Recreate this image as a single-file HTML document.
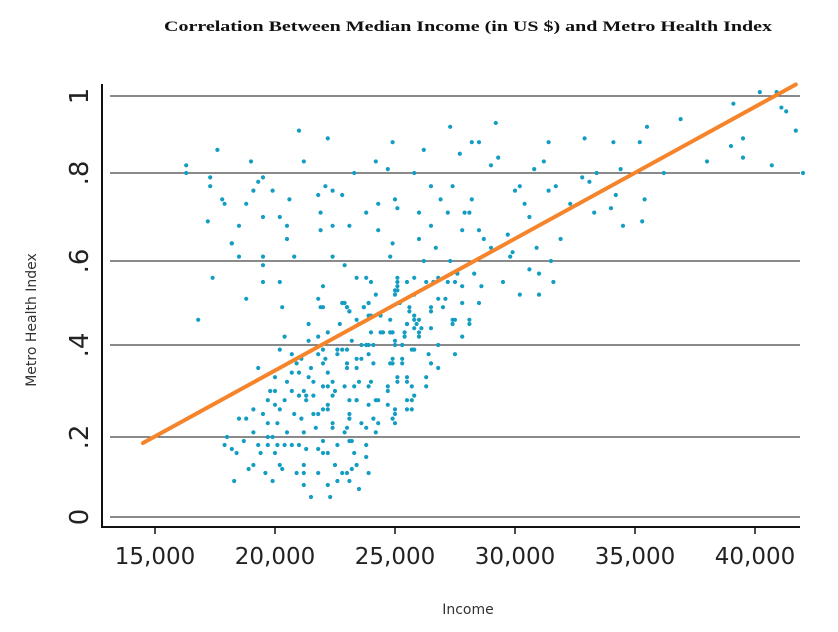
<!DOCTYPE html>
<html><head><meta charset="utf-8"><style>
html,body{margin:0;padding:0;background:#fff;}
svg{display:block;}
</style></head><body>
<svg id="chart" width="838" height="632" viewBox="0 0 838 632" xmlns="http://www.w3.org/2000/svg">
<text x="468" y="31" text-anchor="middle" font-family="Liberation Serif, serif" font-weight="bold" font-size="15" fill="#111" textLength="608" lengthAdjust="spacingAndGlyphs">Correlation Between Median Income (in US $) and Metro Health Index</text>
<g id="grid"></g>
<g id="dots"></g>
<g id="fit"></g>
<g id="axes"></g>
<text x="468" y="614" text-anchor="middle" font-family="DejaVu Sans, Liberation Sans, sans-serif" font-size="14" fill="#333">Income</text>
<text transform="translate(36,320) rotate(-90)" text-anchor="middle" font-family="DejaVu Sans, Liberation Sans, sans-serif" font-size="14" fill="#333">Metro Health Index</text>
</svg>
<script>
const xTicks=[15000,20000,25000,30000,35000,40000];
const xTickLabels=["15,000","20,000","25,000","30,000","35,000","40,000"];
const yTicks=[0,0.2,0.4,0.6,0.8,1];
const yTickLabels=["0",".2",".4",".6",".8","1"];
const incomeK=[
16.3,16.3,17.6,17.3,17.3,17.8,17.9,17.2,18.5,18.2,18.2,18.5,17.4,18.8,19.0,19.3,19.5,19.1,19.9,19.5,20.2,20.5,20.5,19.5,19.5,20.8,20.6,19.5,20.2,18.8,20.3,16.8,21.0,21.2,22.2,22.1,22.4,21.8,22.8,21.9,22.4,21.9,23.1,22.4,22.9,23.3,24.2,24.7,24.9,25.0,25.1,24.3,23.8,24.3,24.9,24.8,25.1,23.4,23.8,24.0,22.0,24.2,21.8,22.8,23.0,23.1,21.9,23.7,23.9,23.9,25.0,25.1,
20.4,20.2,19.3,18.0,17.9,18.2,18.4,18.3,18.5,18.8,19.1,19.1,18.7,19.5,19.7,19.7,19.9,19.3,19.4,19.7,18.9,19.1,19.6,19.9,19.8,20.0,19.7,20.0,20.0,20.2,20.1,20.1,20.0,20.2,20.3,20.4,20.5,20.7,20.8,20.5,20.4,20.7,20.9,20.7,21.0,20.9,21.1,20.7,21.0,21.2,21.3,21.1,21.2,21.0,21.3,21.2,21.2,21.2,21.5,21.4,21.4,21.8,22.2,21.4,21.6,21.5,21.8,22.0,22.1,22.0,21.6,21.3,21.6,21.8,21.7,22.0,22.2,22.2,22.0,22.2,22.4,22.2,22.4,22.4,22.5,22.0,21.8,22.0,22.2,21.8,22.2,22.3,22.6,22.5,22.6,22.8,23.0,23.1,23.5,23.2,23.4,23.8,23.9,23.3,23.1,23.2,23.8,22.9,22.6,22.6,22.8,23.0,23.0,23.0,23.3,23.4,23.1,23.1,23.1,23.0,22.9,22.4,23.4,23.4,23.6,23.5,23.4,23.6,23.8,23.9,23.9,24.0,23.9,23.9,23.6,23.8,23.2,23.5,23.4,24.0,24.1,24.1,24.2,24.3,24.1,24.3,24.2,24.7,24.7,24.7,24.8,24.9,25.0,25.0,25.1,25.3,25.3,25.5,25.5,25.7,25.7,25.7,25.0,24.4,24.5,24.8,24.8,24.4,25.4,25.5,25.9,26.0,25.8,25.6,24.0,23.9,23.7,22.9,23.0,23.1,22.7,22.0,
27.3,29.2,26.2,28.2,28.5,27.7,29.0,29.3,31.4,31.2,30.8,32.9,34.1,35.2,35.5,36.9,34.4,33.4,36.2,38.0,39.0,39.5,39.5,40.7,41.7,42.0,41.3,25.8,40.2,40.9,39.1,41.1,
26.5,27.4,26.9,28.2,26.0,27.2,27.9,28.1,26.5,27.8,28.5,28.7,26.0,26.7,27.3,26.2,29.0,29.7,29.9,29.8,30.9,31.5,31.9,32.3,30.0,30.2,30.4,30.6,31.4,31.7,32.8,33.1,33.3,34.2,34.0,34.5,35.3,35.4,
30.6,31.0,31.6,29.5,30.2,31.0,28.3,28.6,28.5,27.8,27.6,27.5,27.2,27.8,26.8,26.6,26.3,25.8,25.8,25.5,25.1,25.1,25.0,25.2,25.6,26.8,27.1,27.0,26.5,26.5,25.8,26.0,27.4,27.5,28.1,28.1,27.4,27.8,25.5,25.8,26.1,26.5,26.0,25.4,24.9,25.0,26.8,
25.3,25.8,26.4,27.5,24.9,25.3,26.5,26.8,26.3,25.1,25.5,26.3,25.8,25.5,25.7,24.9,25.0];
const healthIndex=[
.82,.80,.86,.79,.77,.74,.73,.69,.68,.64,.64,.61,.56,.73,.83,.78,.79,.76,.76,.70,.70,.68,.65,.61,.59,.61,.74,.55,.55,.51,.49,.46,.91,.83,.89,.77,.76,.75,.75,.71,.68,.67,.68,.61,.59,.80,.83,.81,.88,.74,.72,.73,.71,.67,.64,.61,.56,.56,.56,.55,.54,.52,.51,.50,.49,.48,.49,.49,.50,.47,.53,.54,
.42,.39,.35,.20,.18,.17,.16,.09,.24,.24,.26,.21,.19,.25,.23,.20,.20,.18,.16,.18,.12,.13,.11,.09,.30,.30,.28,.27,.33,.26,.23,.18,.16,.13,.12,.28,.32,.38,.25,.21,.18,.18,.11,.34,.34,.36,.37,.30,.29,.30,.29,.24,.21,.18,.17,.13,.11,.08,.05,.45,.41,.42,.43,.33,.32,.35,.38,.36,.37,.39,.29,.28,.25,.25,.22,.26,.34,.31,.31,.27,.29,.26,.23,.32,.30,.19,.17,.16,.16,.11,.08,.05,.18,.13,.09,.11,.11,.09,.07,.12,.13,.15,.11,.16,.19,.19,.18,.31,.38,.39,.39,.39,.35,.36,.31,.28,.28,.25,.24,.22,.21,.22,.35,.37,.37,.32,.28,.23,.22,.27,.31,.32,.38,.40,.40,.40,.41,.45,.46,.43,.40,.36,.28,.28,.24,.23,.21,.27,.31,.30,.36,.37,.26,.25,.33,.37,.40,.33,.28,.28,.31,.39,.41,.43,.43,.43,.46,.47,.43,.45,.45,.43,.47,.49,.47,.50,.49,.50,.49,.48,.45,.49,
.92,.93,.86,.88,.88,.85,.82,.84,.88,.83,.81,.89,.88,.88,.92,.94,.81,.80,.80,.83,.87,.89,.84,.82,.91,.80,.96,.80,1.01,1.01,.98,.97,
.77,.77,.74,.74,.71,.71,.71,.71,.68,.67,.67,.65,.65,.63,.60,.60,.63,.66,.62,.61,.63,.60,.65,.73,.76,.77,.73,.70,.76,.77,.79,.78,.71,.75,.72,.68,.69,.74,
.58,.57,.55,.55,.52,.52,.57,.54,.50,.50,.57,.55,.55,.54,.56,.55,.55,.56,.52,.55,.55,.53,.52,.50,.48,.51,.51,.49,.49,.48,.46,.46,.46,.46,.46,.45,.45,.42,.45,.44,.44,.44,.42,.42,.43,.40,.40,
.40,.39,.38,.38,.36,.36,.36,.35,.33,.32,.32,.31,.29,.26,.26,.24,.23];
const fitIncome=[14500,41700];
const fitIndex=[0.185,1.03];

const NS="http://www.w3.org/2000/svg";
const X0=155,PX_PER=24/1000;
function xScale(v){return X0+(v-15000)*PX_PER;}
const yPix=[517,437,345,261,173,96];
function yScale(v){
  let i=0;
  if(v<=yTicks[0]) i=0; else if(v>=yTicks[yTicks.length-1]) i=yTicks.length-2;
  else {while(i<yTicks.length-2 && v>yTicks[i+1]) i++;}
  const t=(v-yTicks[i])/(yTicks[i+1]-yTicks[i]);
  return yPix[i]+t*(yPix[i+1]-yPix[i]);
}
function mk(tag,attrs,parent){const e=document.createElementNS(NS,tag);for(const k in attrs)e.setAttribute(k,attrs[k]);parent.appendChild(e);return e;}

const grid=document.getElementById('grid');
yTicks.forEach((t,i)=>{
  const y=yScale(t);
  const l=mk('line',{x1:110,x2:800,y1:y,y2:y,stroke:'#444','stroke-width':1.3},grid);
  
  
  const tx=mk('text',{transform:`translate(88,${y}) rotate(-90)`,'text-anchor':'middle','font-family':'DejaVu Sans, Liberation Sans, sans-serif','font-size':26,fill:'#222'},grid);
  tx.textContent=yTickLabels[i];
  
  
});
const dots=document.getElementById('dots');
for(let i=0;i<incomeK.length;i++){
  const c=mk('circle',{cx:xScale(incomeK[i]*1000),cy:yScale(healthIndex[i]),r:2.1,fill:'#139dc3'},dots);
  
  
}
const fit=document.getElementById('fit');
const fl=mk('line',{x1:xScale(fitIncome[0]),y1:yScale(fitIndex[0]),x2:xScale(fitIncome[1]),y2:yScale(fitIndex[1]),stroke:'#f5842b','stroke-width':4,'stroke-linecap':'round'},fit);


const axes=document.getElementById('axes');
const ya=mk('line',{x1:102,x2:102,y1:84,y2:528,stroke:'#111','stroke-width':2},axes);


const xa=mk('line',{x1:101,x2:800,y1:527,y2:527,stroke:'#111','stroke-width':2},axes);


xTicks.forEach((t,i)=>{
  const x=xScale(t);
  const tk=mk('line',{x1:x,x2:x,y1:527,y2:534,stroke:'#111','stroke-width':1.5},axes);
  
  
  const tx=mk('text',{x:x,y:564,'text-anchor':'middle','font-family':'DejaVu Sans, Liberation Sans, sans-serif','font-size':23,fill:'#222'},axes);
  tx.textContent=xTickLabels[i];
  
  
});
</script>
</body></html>
